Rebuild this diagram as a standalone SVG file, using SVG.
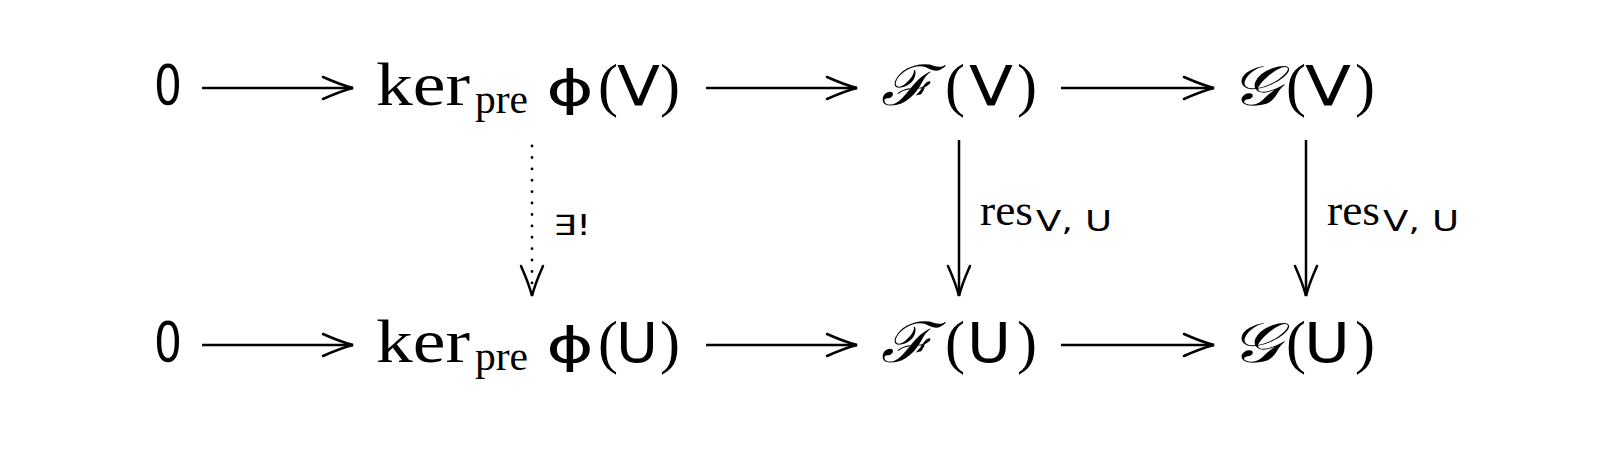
<svg xmlns="http://www.w3.org/2000/svg" width="1597" height="455" viewBox="0 0 1597 455">
<style>
.rm{font-family:"Liberation Serif","DejaVu Serif",serif;fill:#000}
.sf{font-family:"DejaVu Sans","Noto Sans",sans-serif;fill:#000}
.scr{font-family:"DejaVu Serif","Liberation Serif",serif;font-style:italic;fill:#000}
.ar{stroke:#000;stroke-width:2.5;fill:none}
.dot{stroke:#000;stroke-width:2.8;fill:none;stroke-dasharray:0.1 11.3;stroke-linecap:round}
</style>
<defs>
<marker id="hd" markerUnits="userSpaceOnUse" markerWidth="44" markerHeight="44" viewBox="-34 -22 44 44" refX="0" refY="0" orient="auto">
<path d="M-30,-11 Q-12,-3 0,0 Q-12,3 -30,11" stroke="#000" stroke-width="2.5" fill="none" stroke-linecap="round"/>
</marker>
</defs>
<g id="n-0-top"><text class="sf" x="154" y="104" font-size="56" textLength="28" lengthAdjust="spacingAndGlyphs">0</text></g>
<g id="n-ker-V"><text class="rm" x="376" y="105" font-size="61" textLength="94" lengthAdjust="spacingAndGlyphs">ker</text><text class="rm" x="475" y="113" font-size="40" textLength="53" lengthAdjust="spacingAndGlyphs">pre</text><text class="sf" x="546" y="105" font-size="48" textLength="48" lengthAdjust="spacingAndGlyphs">ϕ</text><text class="rm" x="598" y="105" font-size="60">(</text><text class="sf" x="617" y="105" font-size="55" textLength="43" lengthAdjust="spacingAndGlyphs">V</text><text class="rm" x="660" y="105" font-size="60">)</text></g>
<g id="n-F-V"><text class="scr" x="881" y="105" font-size="56" textLength="52" lengthAdjust="spacingAndGlyphs">ℱ</text><text class="rm" x="945" y="105" font-size="60">(</text><text class="sf" x="969" y="105" font-size="55" textLength="44" lengthAdjust="spacingAndGlyphs">V</text><text class="rm" x="1017" y="105" font-size="60">)</text></g>
<g id="n-G-V"><text class="scr" x="1230" y="105" font-size="56" textLength="50" lengthAdjust="spacingAndGlyphs">𝒢</text><text class="rm" x="1286" y="105" font-size="60">(</text><text class="sf" x="1305" y="105" font-size="55" textLength="46" lengthAdjust="spacingAndGlyphs">V</text><text class="rm" x="1355" y="105" font-size="60">)</text></g>
<g id="n-0-bot"><text class="sf" x="154" y="361" font-size="56" textLength="28" lengthAdjust="spacingAndGlyphs">0</text></g>
<g id="n-ker-U"><text class="rm" x="376" y="362" font-size="61" textLength="94" lengthAdjust="spacingAndGlyphs">ker</text><text class="rm" x="475" y="370" font-size="40" textLength="53" lengthAdjust="spacingAndGlyphs">pre</text><text class="sf" x="546" y="362" font-size="48" textLength="48" lengthAdjust="spacingAndGlyphs">ϕ</text><text class="rm" x="598" y="362" font-size="60">(</text><text class="sf" x="616" y="362" font-size="55" textLength="42" lengthAdjust="spacingAndGlyphs">U</text><text class="rm" x="660" y="362" font-size="60">)</text></g>
<g id="n-F-U"><text class="scr" x="881" y="362" font-size="56" textLength="52" lengthAdjust="spacingAndGlyphs">ℱ</text><text class="rm" x="945" y="362" font-size="60">(</text><text class="sf" x="967" y="362" font-size="55" textLength="44" lengthAdjust="spacingAndGlyphs">U</text><text class="rm" x="1017" y="362" font-size="60">)</text></g>
<g id="n-G-U"><text class="scr" x="1230" y="362" font-size="56" textLength="50" lengthAdjust="spacingAndGlyphs">𝒢</text><text class="rm" x="1286" y="362" font-size="60">(</text><text class="sf" x="1304" y="362" font-size="55" textLength="46" lengthAdjust="spacingAndGlyphs">U</text><text class="rm" x="1355" y="362" font-size="60">)</text></g>
<g id="connectors">
<line class="ar" x1="202" y1="88" x2="353" y2="88" marker-end="url(#hd)"/>
<line class="ar" x1="706" y1="88" x2="857" y2="88" marker-end="url(#hd)"/>
<line class="ar" x1="1061" y1="88" x2="1214" y2="88" marker-end="url(#hd)"/>
<line class="ar" x1="202" y1="345" x2="353" y2="345" marker-end="url(#hd)"/>
<line class="ar" x1="706" y1="345" x2="857" y2="345" marker-end="url(#hd)"/>
<line class="ar" x1="1061" y1="345" x2="1214" y2="345" marker-end="url(#hd)"/>
<line class="dot" x1="532" y1="146" x2="532" y2="290"/>
<line x1="532" y1="294" x2="532" y2="296" stroke="none" marker-end="url(#hd)"/>
<line class="ar" x1="959" y1="140" x2="959" y2="296" marker-end="url(#hd)"/>
<line class="ar" x1="1306" y1="140" x2="1306" y2="296" marker-end="url(#hd)"/>
<text class="sf" x="553" y="235" font-size="28" textLength="38" lengthAdjust="spacingAndGlyphs">∃!</text>
<text class="rm" x="980" y="225" font-size="44" textLength="53" lengthAdjust="spacingAndGlyphs">res</text><text class="sf" x="1036" y="231" font-size="29" textLength="76" lengthAdjust="spacingAndGlyphs">V, U</text>
<text class="rm" x="1327" y="225" font-size="44" textLength="53" lengthAdjust="spacingAndGlyphs">res</text><text class="sf" x="1383" y="231" font-size="29" textLength="76" lengthAdjust="spacingAndGlyphs">V, U</text>
</g>
</svg>
